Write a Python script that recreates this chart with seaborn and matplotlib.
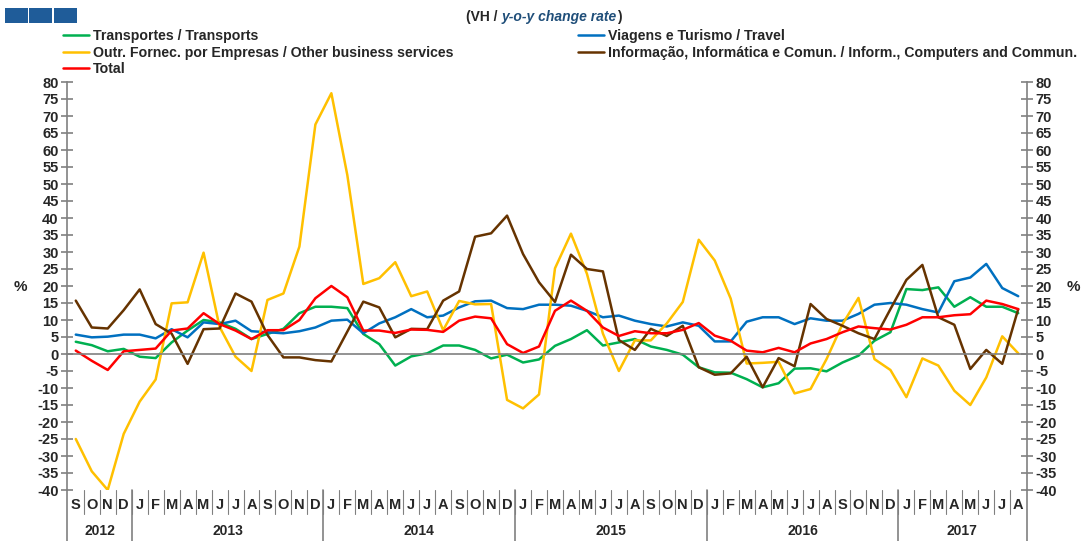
import numpy as np
import pandas as pd
import matplotlib
matplotlib.use('Agg')
import matplotlib.pyplot as plt
import matplotlib.transforms as mtransforms
from matplotlib.patches import Rectangle
import seaborn as sns

# month letters Sep 2012 .. Aug 2017
month_letters = ['S', 'O', 'N', 'D'] + ['J', 'F', 'M', 'A', 'M', 'J', 'J', 'A', 'S', 'O', 'N', 'D'] * 4 \
    + ['J', 'F', 'M', 'A', 'M', 'J', 'J', 'A']
years = ['2012', '2013', '2014', '2015', '2016', '2017']
months_per_year = [4, 12, 12, 12, 12, 8]

transports = [3.6, 2.6, 0.8, 1.5, -0.8, -1.2, 3.4, 6.9, 10.0, 9.3, 7.4, 4.4, 5.9, 7.4, 12.0, 13.9, 13.9, 13.5,
              5.9, 2.9, -3.4, -0.7, 0.2, 2.5, 2.5, 1.2, -1.3, -0.2, -2.5, -1.6, 2.4, 4.4, 7.0, 2.5, 3.4, 4.4,
              2.2, 1.2, -0.2, -3.9, -5.4, -5.5, -7.4, -9.8, -8.6, -4.3, -4.2, -5.1, -2.5, -0.5, 3.9, 6.4,
              19.1, 18.8, 19.6, 13.9, 16.7, 13.9, 13.9, 12.0]
travel = [5.7, 4.9, 5.1, 5.7, 5.7, 4.6, 7.3, 4.9, 9.3, 8.8, 9.8, 6.7, 6.4, 6.1, 6.7, 7.8, 9.8, 10.1,
          6.1, 9.0, 10.8, 13.2, 10.8, 11.3, 13.7, 15.5, 15.7, 13.5, 13.2, 14.5, 14.5, 14.2, 12.7, 10.8, 11.3, 9.8,
          8.8, 8.1, 9.3, 8.3, 3.7, 3.7, 9.5, 10.8, 10.8, 8.8, 10.5, 9.8, 9.8, 11.8, 14.5, 15.0,
          14.5, 13.2, 12.2, 21.4, 22.5, 26.5, 19.4, 17.0]
other_business = [-25.0, -34.5, -40.0, -23.5, -14.0, -7.5, 14.9, 15.2, 29.8, 8.0, -0.8, -5.0, 15.9, 17.8, 31.6, 67.5,
                  76.7, 52.6, 20.6, 22.3, 27.0, 17.0, 18.4, 7.0, 15.6, 14.6, 14.7, -13.5, -16.0, -11.9, 25.2, 35.4,
                  23.6, 6.0, -5.0, 4.0, 4.0, 9.0, 15.3, 33.6, 27.5, 16.3, -2.8, -2.6, -2.3, -11.6, -10.3, -1.5,
                  8.8, 16.5, -1.5, -4.7, -12.7, -1.3, -3.4, -10.8, -15.0, -6.9, 5.2, 0.2]
info_comp = [15.7, 7.8, 7.5, 12.9, 19.0, 8.8, 6.0, -2.9, 7.3, 7.5, 17.8, 15.4, 5.6, -1.0, -1.0, -1.8, -2.2, 6.6,
             15.4, 13.7, 4.9, 7.4, 7.3, 15.7, 18.4, 34.5, 35.5, 40.7, 29.4, 21.1, 15.3, 29.2, 25.0, 24.3, 4.1, 1.2,
             7.4, 5.3, 8.3, -3.9, -6.1, -5.7, -0.8, -9.8, -1.2, -3.6, 14.7, 10.3, 8.3, 6.1, 4.4, 13.2,
             21.8, 26.2, 10.8, 8.6, -4.4, 1.2, -2.9, 13.2]
total = [1.0, -2.0, -4.7, 0.8, 1.2, 1.6, 6.9, 7.5, 12.0, 8.8, 6.9, 4.4, 7.0, 7.0, 10.0, 16.4, 20.0, 16.7,
         6.9, 6.9, 6.2, 7.2, 7.1, 6.5, 9.8, 11.0, 10.5, 2.9, 0.3, 2.2, 12.7, 15.7, 12.7, 7.8, 5.3, 6.7,
         6.1, 6.1, 7.1, 9.1, 5.4, 3.9, 1.0, 0.5, 1.8, 0.5, 3.1, 4.4, 6.4, 8.1, 7.6, 7.2,
         8.6, 10.8, 10.8, 11.4, 11.7, 15.7, 14.7, 13.2]

series_names = ['Transportes / Transports',
                'Viagens e Turismo / Travel',
                'Outr. Fornec. por Empresas / Other business services',
                'Informação, Informática e Comun. / Inform., Computers and Commun.',
                'Total']
series_values = [transports, travel, other_business, info_comp, total]
series_colors = ['#00B050', '#0070C0', '#FFC000', '#663300', '#FF0000']

sns.set_style('white')
plt.rcParams['font.family'] = ['Liberation Sans', 'DejaVu Sans']

W, H = 1081, 541
fig = plt.figure(figsize=(W / 100, H / 100), dpi=100)
ax = fig.add_axes([67 / W, 51 / H, 960 / W, 408 / H])

idx = np.arange(len(month_letters))
for name, vals, col in zip(series_names, series_values, series_colors):
    sns.lineplot(x=idx, y=vals, color=col, linewidth=1.8, ax=ax, label=name, legend=False)

ax.set_xlim(-0.55, len(idx) - 0.45)
ax.set_ylim(-40, 80)
ax.set_yticks(np.arange(-40, 81, 5))

grey = '#808080'
ax.spines['top'].set_visible(False)
for s in ['left', 'right', 'bottom']:
    ax.spines[s].set_color(grey)
    ax.spines[s].set_linewidth(1.2)
ax.spines['bottom'].set_position(('data', 0))

ax.tick_params(axis='y', which='both', left=True, right=True, labelleft=True, labelright=True,
               direction='inout', length=8, width=1.2, color=grey, pad=2, labelsize=10.5)
ax.set_yticklabels([str(v) for v in range(-40, 81, 5)], fontweight='bold')

ax.set_xticks(idx[:-1] + 0.5)
ax.tick_params(axis='x', direction='out', length=3, width=1, color=grey, labelbottom=False)

# month and year rows below the plot
trans = mtransforms.blended_transform_factory(ax.transData, ax.transAxes)
for i, m in enumerate(month_letters):
    ax.text(i, -0.037, m, transform=trans, ha='center', va='center', fontsize=10.5, fontweight='bold')
for i in idx[:-1]:
    ax.plot([i + 0.5, i + 0.5], [0, -0.058], transform=trans, color=grey, lw=0.8, clip_on=False)
start = 0
bounds = [-0.55]
for y, n in zip(years, months_per_year):
    ax.text(start + (n - 1) / 2, -0.101, y, transform=trans, ha='center', va='center',
            fontsize=10, fontweight='bold')
    start += n
    bounds.append(start - 0.5)
bounds[-1] = len(idx) - 0.45
for b in bounds:
    ax.plot([b, b], [0, -0.13], transform=trans, color=grey, lw=1.2, clip_on=False)

fig.text(20 / W, 1 - 287 / H, '%', ha='center', va='center', fontsize=11, fontweight='bold')
fig.text(1073 / W, 1 - 287 / H, '%', ha='center', va='center', fontsize=11, fontweight='bold')

# title
t1 = fig.text(466 / W, 1 - 17 / H, '(VH / ', ha='left', va='center', fontsize=10, fontweight='bold')
t2 = ax.annotate('y-o-y change rate', xy=(1, 0), xycoords=t1, va='bottom', ha='left',
                 fontsize=10, fontweight='bold', style='italic', color='#1F4E79', annotation_clip=False)
ax.annotate(')', xy=(1, 0), xycoords=t2, xytext=(0.5, 0), textcoords='offset points',
            va='bottom', ha='left', fontsize=10, fontweight='bold', annotation_clip=False)

# three blue squares top-left
for x0 in [5, 29, 54]:
    fig.patches.append(Rectangle((x0 / W, 1 - 23 / H), 23 / W, 15 / H, transform=fig.transFigure,
                                 facecolor='#1F5C99', edgecolor='none'))

# legend in two columns
handles, labels = ax.get_legend_handles_labels()
order1 = [0, 2, 4]
order2 = [1, 3]
leg_kw = dict(frameon=False, handlelength=1.8, handletextpad=0.3,
              labelspacing=0.18, borderpad=0, borderaxespad=0, loc='upper left',
              prop={'size': 10.2, 'weight': 'bold'})
leg1 = fig.legend([handles[i] for i in order1], [labels[i] for i in order1],
                  bbox_to_anchor=(63 / W, 1 - 29 / H), **leg_kw)
leg2 = fig.legend([handles[i] for i in order2], [labels[i] for i in order2],
                  bbox_to_anchor=(578 / W, 1 - 29 / H), **leg_kw)

fig.savefig('out.png', dpi=100, facecolor='white')
